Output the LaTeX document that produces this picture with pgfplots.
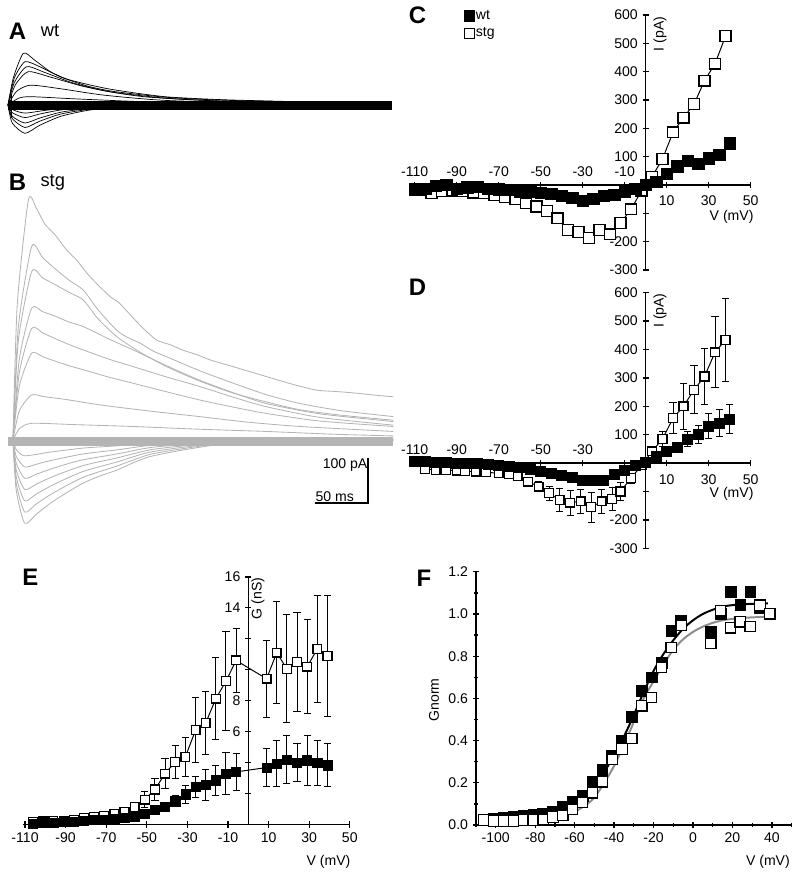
\documentclass[border=0pt]{standalone}
\usepackage{fontspec}
\setmainfont{Liberation Sans}
\usepackage{pgfplots}
\pgfplotsset{compat=1.18}
\definecolor{tracegray}{HTML}{B4B4B4}
\definecolor{fitgray}{HTML}{8C8C8C}
\newcommand{\tfont}{\fontsize{10}{12}\selectfont}
\newcommand{\pfont}{\fontsize{17}{20}\selectfont\bfseries}
\pgfplotsset{
  base/.style={scale only axis, clip=false, anchor=south west,
    /pgf/number format/assume math mode=true,
    font=\tfont, tick label style={font=\tfont},
    major tick length=1.5mm, minor tick length=0.9mm,
    tick style={line width=0.9pt, black}, tick align=outside},
  noarrow/.style={axis line style={line width=0.9pt,-},
    every inner x axis line/.append style={-},
    every inner y axis line/.append style={-},
    every outer x axis line/.append style={-},
    every outer y axis line/.append style={-}},
  trace/.style={scale only axis, clip=false, anchor=south west, axis lines=none, ticks=none},
  wtm/.style={mark=square*, mark size=1.3mm, mark options={fill=black, draw=black, line width=0.4pt, solid}},
  stgm/.style={mark=square*, mark size=1.25mm, mark options={fill=white, draw=black, line width=0.9pt, solid}},
  ebar/.style={error bars/.cd, y dir=both, y explicit,
    error bar style={line width=0.7pt, black},
    error mark options={rotate=90, line width=0.7pt, mark size=0.9mm, black}},
}
\begin{document}
\begin{tikzpicture}
\useasboundingbox (0,0) rectangle (200mm,219.5mm);

% ---------------- Panel labels
\node[font=\pfont] at (4.4mm,211.8mm) {A};
\node[font=\fontsize{13}{15}\selectfont] at (12.5mm,211.9mm) {wt};
\node[font=\pfont] at (4.4mm,173.9mm) {B};
\node[font=\fontsize{13}{15}\selectfont] at (13.2mm,173.9mm) {stg};
\node[font=\pfont] at (104.4mm,215.6mm) {C};
\node[font=\pfont] at (104.4mm,147.6mm) {D};
\node[font=\pfont] at (7.6mm,75.3mm) {E};
\node[font=\pfont] at (106mm,75mm) {F};

% ---------------- A: wt traces
\begin{axis}[trace, at={(2mm,185.375mm)}, width=95.9mm, height=21.375mm,
  xmin=0, xmax=362, ymin=-70, ymax=120]
\addplot[black, line width=2.4mm] coordinates {(0,-1)(362,-1)};
\addplot[black, line width=0.5pt] coordinates {(3.5,22)(3.5,-29)};
\addplot[black, line width=0.5pt, smooth, tension=0.4] coordinates {(0,0)(5,60)(14.5,115)(25,100)(40,74)(55,58)(71,48)(90,38)(102,33)(125,25)(150,18)(180,14)(212,11)(280,7)(362,4)};
\addplot[black, line width=0.5pt, smooth, tension=0.4] coordinates {(0,0)(6,60)(16,96)(30,85)(50,62)(75,42)(100,30)(150,17)(212,10)(362,3)};
\addplot[black, line width=0.5pt, smooth, tension=0.4] coordinates {(0,0)(6,50)(17.6,85)(35,72)(60,50)(90,32)(130,18)(200,9)(362,3)};
\addplot[black, line width=0.5pt, smooth, tension=0.4] coordinates {(0,0)(7,45)(19,74)(40,62)(70,42)(100,28)(150,15)(220,7)(362,2)};
\addplot[black, line width=0.5pt, smooth, tension=0.4] coordinates {(0,0)(8,30)(21,44)(50,36)(90,22)(150,10)(250,4)(362,1)};
\addplot[black, line width=0.5pt, smooth, tension=0.4] coordinates {(0,0)(10,15)(21,18.5)(60,14)(120,8)(200,3)(362,1)};
\addplot[black, line width=0.5pt, smooth, tension=0.4] coordinates {(0,0)(4,-40)(16,-63)(30,-45)(50,-25)(75,-12)(100,-6)(150,-2)(362,0)};
\addplot[black, line width=0.5pt, smooth, tension=0.4] coordinates {(0,0)(4,-30)(16,-50)(30,-36)(50,-20)(75,-10)(100,-4)(150,-1)(362,0)};
\addplot[black, line width=0.5pt, smooth, tension=0.4] coordinates {(0,0)(4,-25)(16,-40)(30,-29)(50,-16)(75,-8)(100,-3)(362,0)};
\addplot[black, line width=0.5pt, smooth, tension=0.4] coordinates {(0,0)(4,-17)(16,-28)(30,-20)(50,-11)(75,-5)(100,-2)(362,0)};
\addplot[black, line width=0.5pt, smooth, tension=0.4] coordinates {(0,0)(5,-11)(16,-18)(35,-12)(60,-6)(100,-2)(362,0)};
\end{axis}

% ---------------- B: stg traces
\begin{axis}[trace, at={(3.25mm,87mm)}, width=95.1mm, height=85.5mm,
  xmin=0, xmax=359, ymin=-200, ymax=560]
\addplot[tracegray, line width=2.4mm] coordinates {(-5,-3)(359,-3)};
\addplot[tracegray, line width=0.6pt, smooth, tension=0.4] coordinates {(0,0)(4,300)(14.5,533)(22,515)(30,480)(40,455)(50.6,422)(60,400)(70,370)(80,345)(91.5,319)(100,305)(110,280)(122,250)(135.5,222)(148,212)(160,200)(173,190)(186,178)(212,160)(239,141)(262,125)(286,111)(303,108)(320,105)(340,100)(359,96)};
\addplot[tracegray, line width=0.6pt, smooth, tension=0.4] coordinates {(0,0)(5,250)(17.6,430)(28,405)(40,380)(53,355)(66.4,333)(80,290)(97.8,244)(108,228)(120,215)(132,198)(145,185)(175,155)(208,126)(240,100)(271,81)(310,65)(359,52)};
\addplot[tracegray, line width=0.6pt, smooth, tension=0.4] coordinates {(0,0)(5,220)(17.6,374)(28,360)(40,345)(53,328)(66.4,311)(80,270)(97.8,230)(120,195)(145,163)(175,132)(208,104)(240,84)(271,67)(310,55)(359,44)};
\addplot[tracegray, line width=0.6pt, smooth, tension=0.4] coordinates {(0,0)(6,180)(17.6,293)(28,285)(40,275)(53,262)(66.4,252)(90,225)(113.5,200)(145,165)(176,133)(208,105)(239,81)(290,58)(359,41)};
\addplot[tracegray, line width=0.6pt, smooth, tension=0.4] coordinates {(0,0)(6,150)(17.6,248)(28,238)(40,225)(53,212)(66.4,200)(90,180)(113.5,163)(145,140)(176,119)(208,95)(239,74)(290,50)(359,33)};
\addplot[tracegray, line width=0.6pt, smooth, tension=0.4] coordinates {(0,0)(6,120)(17.6,193)(28,185)(40,175)(53,165)(66.4,156)(90,140)(113.5,126)(145,107)(176,89)(208,73)(239,59)(290,42)(359,30)};
\addplot[tracegray, line width=0.6pt, smooth, tension=0.4] coordinates {(0,0)(6,65)(17.6,100)(30,96)(50,90)(82,78)(130,64)(176,52)(220,40)(271,30)(359,19)};
\addplot[tracegray, line width=0.6pt, smooth, tension=0.4] coordinates {(0,0)(6,25)(17.6,37)(60,34)(113.5,30)(175,24)(239,19)(300,13)(359,9)};
\addplot[tracegray, line width=0.6pt, smooth, tension=0.4] coordinates {(0,0)(3,-111)(11,-185)(22,-165)(35,-141)(50,-118)(66,-96)(82,-80)(98,-67)(114,-50)(129,-37)(145,-29)(161,-22)(185,-13)(208,-7)(280,-2)(359,0)};
\addplot[tracegray, line width=0.6pt, smooth, tension=0.4] coordinates {(0,0)(3,-96)(11,-160)(22,-142)(35,-122)(50,-102)(66,-83)(82,-70)(98,-58)(114,-44)(129,-32)(145,-25)(161,-19)(185,-11)(208,-6)(280,-2)(359,0)};
\addplot[tracegray, line width=0.6pt, smooth, tension=0.4] coordinates {(0,0)(3,-81)(11,-135)(22,-120)(35,-103)(50,-86)(66,-70)(82,-59)(98,-49)(114,-37)(129,-27)(161,-16)(208,-5)(280,-1)(359,0)};
\addplot[tracegray, line width=0.6pt, smooth, tension=0.4] coordinates {(0,0)(3,-66)(11,-110)(22,-98)(35,-84)(50,-70)(66,-57)(82,-48)(98,-40)(129,-22)(161,-13)(208,-4)(280,-1)(359,0)};
\addplot[tracegray, line width=0.6pt, smooth, tension=0.4] coordinates {(0,0)(3,-51)(11,-85)(22,-76)(35,-65)(50,-54)(66,-44)(98,-31)(129,-17)(161,-10)(208,-3)(280,-1)(359,0)};
\addplot[tracegray, line width=0.6pt, smooth, tension=0.4] coordinates {(0,0)(3,-36)(11,-60)(22,-54)(35,-46)(66,-31)(98,-22)(129,-12)(161,-7)(208,-2)(280,-1)(359,0)};
\addplot[tracegray, line width=0.6pt, smooth, tension=0.4] coordinates {(0,0)(3,-21)(11,-35)(35,-27)(66,-18)(98,-13)(129,-7)(161,-4)(208,-1)(359,0)};
% scale bar
\addplot[black, line width=0.9pt] coordinates {(285,-140)(335,-140)(335,-40)};
\node[anchor=east, font=\tfont, inner sep=1pt] at (axis cs:336,-56) {100 pA};
\node[anchor=west, font=\tfont, inner sep=1pt] at (axis cs:284,-127) {50 ms};
\end{axis}

% ---------------- C
\begin{axis}[base, at={(103.675mm,152mm)}, width=84mm, height=63.75mm,
  xmin=-110, xmax=50, ymin=-300, ymax=600, axis lines=middle, noarrow,
  xtick={-110,-90,...,50}, xticklabels={},
  ytick={-300,-200,...,600}, yticklabels={-300,-200,,,100,200,300,400,500,600},
  legend style={at={(0.146,1.026)}, anchor=north west, draw=none, fill=none,
    font=\fontsize{10}{12}\selectfont, inner sep=0pt, row sep=2.6pt,
    nodes={inner sep=1pt}},
  legend cell align=left]
\addlegendimage{only marks, wtm, mark size=1.3mm}
\addlegendimage{only marks, stgm, mark size=1.25mm}
\legend{wt,stg}
\addplot[black, line width=0.7pt, stgm, mark size=1.35mm] coordinates {
(-107,-18)(-102,-29)(-97,-22)(-92,-20)(-87,-22)(-82,-27)(-77,-29)(-72,-35)(-67,-44)(-62,-51)(-57,-65)(-52,-76)(-47,-91)(-42,-118)(-37,-159)(-32,-165)(-27,-188)(-22,-159)(-17,-174)(-12,-134)(-7,-86)(-2,-20)(3,29)(8,92)(13,186)(18,238)(23,285)(28,368)(33,428)(38,525)};
\addplot[only marks, wtm, mark size=1.4mm] coordinates {
(-110,-15)(-105,-12)(-100,-4)(-95,0)(-90,-12)(-85,-8)(-80,-6)(-75,-12)(-70,-15)(-65,-18)(-60,-24)(-55,-24)(-50,-27)(-45,-31)(-40,-38)(-35,-45)(-30,-55)(-25,-50)(-20,-39)(-15,-35)(-10,-24)(-5,-12)(0,2)(5,10)(10,39)(15,66)(20,86)(25,74)(30,94)(35,106)(40,147)};
\node at (axis cs:-110,47) {-110};
\node at (axis cs:-90,47) {-90};
\node at (axis cs:-70,47) {-70};
\node at (axis cs:-50,47) {-50};
\node at (axis cs:-30,47) {-30};
\node at (axis cs:-10,47) {-10};
\node at (axis cs:10,-57) {10};
\node at (axis cs:30,-57) {30};
\node at (axis cs:50,-57) {50};
\node at (axis cs:40.9,-112) {V (mV)};
\node[rotate=90] at (axis cs:6.8,533) {I (pA)};
\end{axis}

% ---------------- D
\begin{axis}[base, at={(103.675mm,82.425mm)}, width=84mm, height=63.9mm,
  xmin=-110, xmax=50, ymin=-300, ymax=600, axis lines=middle, noarrow,
  xtick={-110,-90,...,50}, xticklabels={},
  ytick={-300,-200,...,600}, yticklabels={-300,-200,,,100,200,300,400,500,600}]
\addplot[black, line width=0.7pt, stgm, mark size=1.1mm, ebar] coordinates {
(-105,-21)+-(0,4)(-100,-24)+-(0,4)(-95,-25)+-(0,4)(-90,-26)+-(0,4)(-86,-28)+-(0,4)(-81,-30)+-(0,5)(-76,-33)+-(0,5)(-70,-35)+-(0,6)(-65,-40)+-(0,7)(-61,-47)+-(0,9)(-56,-65)+-(0,12)(-51,-83)+-(0,18)(-46,-106)+-(0,25)(-41,-130)+-(0,40)(-36,-139)+-(0,44)(-31,-135)+-(0,41)(-26,-155)+-(0,53)(-21,-135)+-(0,41)(-16,-127)+-(0,41)(-12,-100)+-(0,32)(-7,-53)+-(0,18)(-2,-8)+-(0,8)(3,41)+-(0,10)(8,85)+-(0,27)(13,158)+-(0,55)(18,200)+-(0,80)(23,258)+-(0,85)(28,305)+-(0,100)(33,390)+-(0,125)(38,434)+-(0,145)};
\addplot[black, line width=0.7pt, wtm, mark size=1.25mm, ebar] coordinates {
(-110,5)+-(0,4)(-105,6)+-(0,4)(-100,4)+-(0,4)(-95,2)+-(0,4)(-90,0)+-(0,4)(-85,0)+-(0,4)(-80,-2)+-(0,4)(-75,-4)+-(0,4)(-70,-6)+-(0,5)(-65,-10)+-(0,5)(-60,-15)+-(0,6)(-55,-22)+-(0,6)(-50,-28)+-(0,7)(-45,-35)+-(0,8)(-40,-42)+-(0,9)(-35,-50)+-(0,10)(-30,-59)+-(0,10)(-25,-61)+-(0,10)(-20,-59)+-(0,10)(-15,-41)+-(0,9)(-10,-24)+-(0,8)(-5,-8)+-(0,6)(0,2)+-(0,5)(5,25)+-(0,8)(10,40)+-(0,12)(15,55)+-(0,18)(20,85)+-(0,26)(25,100)+-(0,32)(30,129)+-(0,44)(35,141)+-(0,47)(40,155)+-(0,51)};
\node at (axis cs:-110,47) {-110};
\node at (axis cs:-90,47) {-90};
\node at (axis cs:-70,47) {-70};
\node at (axis cs:-50,47) {-50};
\node at (axis cs:-30,47) {-30};
\node at (axis cs:10,-57) {10};
\node at (axis cs:30,-57) {30};
\node at (axis cs:50,-57) {50};
\node at (axis cs:40.9,-110) {V (mV)};
\node[rotate=90] at (axis cs:6.8,537) {I (pA)};
\end{axis}

% ---------------- E
\begin{axis}[base, at={(5.75mm,13.375mm)}, width=81.7mm, height=61.9mm,
  xmin=-111, xmax=50, ymin=0, ymax=16, axis lines=middle, noarrow,
  xtick={-110,-90,...,50},
  ytick={2,4,...,16}, yticklabels={,,6,8,,,14,16}]
\addplot[black, line width=0.7pt, stgm, mark size=1.1mm, ebar] coordinates {
(-106,0.17)+-(0,0.05)(-101,0.2)+-(0,0.05)(-96,0.22)+-(0,0.05)(-91,0.25)+-(0,0.06)(-86,0.32)+-(0,0.07)(-81,0.45)+-(0,0.08)(-76,0.5)+-(0,0.1)(-71,0.54)+-(0,0.12)(-66,0.67)+-(0,0.15)(-61,0.82)+-(0,0.2)(-56,1.14)+-(0,0.3)(-51,1.61)+-(0,0.5)(-46,2.26)+-(0,0.72)(-41,3.29)+-(0,0.97)(-36,4.04)+-(0,1.05)(-31,4.37)+-(0,1.24)(-26,6.09)+-(0,2.1)(-21,6.56)+-(0,2.05)(-16,8.13)+-(0,2.65)(-11,9.27)+-(0,3.2)(-6,10.6)+-(0,2.05)(9,9.42)+-(0,2.5)(14,11.1)+-(0,3.3)(19,10.06)+-(0,3.5)(24,10.5)+-(0,3.2)(29,10.2)+-(0,3.05)(34,11.35)+-(0,3.45)(39,10.9)+-(0,3.9)};
\addplot[black, line width=0.7pt, wtm, mark size=1.15mm, ebar] coordinates {
(-106,0.06)+-(0,0.03)(-101,0.09)+-(0,0.03)(-96,0.12)+-(0,0.03)(-91,0.15)+-(0,0.04)(-86,0.18)+-(0,0.04)(-81,0.22)+-(0,0.05)(-76,0.28)+-(0,0.05)(-71,0.32)+-(0,0.06)(-66,0.39)+-(0,0.07)(-61,0.43)+-(0,0.08)(-56,0.5)+-(0,0.1)(-51,0.71)+-(0,0.12)(-46,0.95)+-(0,0.15)(-41,1.15)+-(0,0.2)(-36,1.5)+-(0,0.35)(-31,1.95)+-(0,0.6)(-26,2.42)+-(0,0.7)(-21,2.55)+-(0,1.0)(-16,2.86)+-(0,0.96)(-11,3.29)+-(0,1.37)(-6,3.4)+-(0,1.2)(9,3.68)+-(0,1.24)(14,3.94)+-(0,1.5)(19,4.19)+-(0,1.56)(24,4.0)+-(0,1.24)(29,4.15)+-(0,1.6)(34,3.98)+-(0,1.48)(39,3.83)+-(0,1.4)};
\node at (axis cs:39.5,-2.42) {V (mV)};
\node[rotate=90] at (axis cs:4.8,14.6) {G (nS)};
\end{axis}

% ---------------- F
\begin{axis}[base, at={(119mm,13.25mm)}, width=78.9mm, height=63.3mm,
  xmin=-110, xmax=50, ymin=0, ymax=1.2, axis lines=left, noarrow,
  xtick={-100,-80,...,40}, minor xtick={-110,-90,...,50},
  ytick={0,0.2,...,1.2}, minor ytick={0.1,0.3,...,1.1},
  yticklabel style={/pgf/number format/.cd, fixed, fixed zerofill, precision=1}]
\addplot[only marks, wtm, mark size=1.35mm] coordinates {
(-106,0.025)(-101,0.03)(-96,0.035)(-91,0.04)(-86,0.042)(-81,0.047)(-76,0.055)(-71,0.065)(-66,0.085)(-61,0.11)(-56,0.137)(-51,0.205)(-46,0.26)(-41,0.33)(-36,0.40)(-31,0.513)(-26,0.636)(-21,0.70)(-16,0.77)(-11,0.92)(-6,0.966)(9,0.916)(14,1.0)(19,1.105)(24,1.042)(29,1.105)(34,1.03)(39,1.0)};
\addplot[only marks, stgm, mark size=1.3mm] coordinates {
(-106,0.024)(-101,0.019)(-96,0.019)(-91,0.019)(-86,0.024)(-81,0.024)(-76,0.028)(-71,0.038)(-66,0.047)(-61,0.074)(-56,0.106)(-51,0.153)(-46,0.205)(-41,0.311)(-36,0.36)(-31,0.41)(-26,0.565)(-21,0.605)(-16,0.747)(-11,0.842)(-6,0.947)(9,0.86)(14,1.015)(19,0.935)(24,0.963)(29,0.94)(34,1.042)(39,1.003)};
\addplot[black, line width=1.4pt, smooth] coordinates {
(-106,0.022)(-100,0.025)(-90,0.03)(-80,0.038)(-70,0.055)(-62,0.075)(-55,0.115)(-50,0.17)(-45,0.25)(-40,0.33)(-35,0.42)(-31,0.50)(-25,0.63)(-20,0.73)(-15,0.81)(-10,0.875)(-5,0.93)(0,0.97)(5,1.0)(10,1.02)(15,1.035)(20,1.042)(25,1.046)(30,1.048)(38,1.05)};
\addplot[fitgray, line width=1.4pt, smooth] coordinates {
(-106,0.015)(-100,0.016)(-90,0.02)(-80,0.026)(-70,0.04)(-62,0.055)(-55,0.09)(-50,0.13)(-45,0.2)(-40,0.28)(-35,0.38)(-31,0.466)(-25,0.6)(-20,0.68)(-15,0.76)(-10,0.83)(-5,0.88)(0,0.915)(5,0.94)(10,0.958)(15,0.97)(20,0.977)(25,0.981)(30,0.984)(38,0.987)};
\node[rotate=90] at (axis cs:-131.3,0.592) {Gnorm};
\node at (axis cs:38,-0.175) {V (mV)};
\end{axis}
\end{tikzpicture}
\end{document}
